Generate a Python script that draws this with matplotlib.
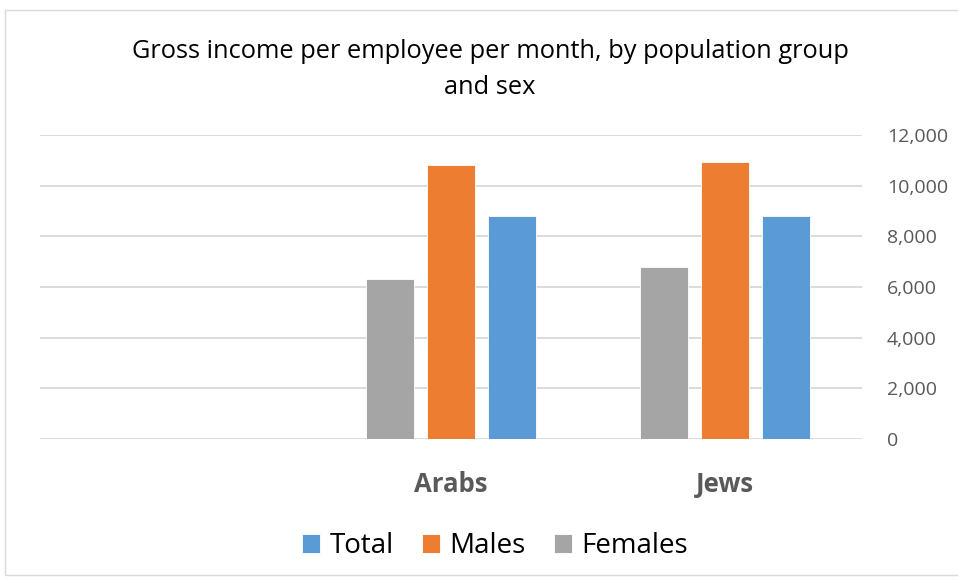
import matplotlib.pyplot as plt
import numpy as np
from matplotlib.patches import Rectangle
from matplotlib.ticker import FuncFormatter

plt.rcParams['font.family'] = ['Open Sans', 'DejaVu Sans']

# categories left to right (the chart runs right-to-left, first slot is empty)
categories = ['', 'Arabs', 'Jews']
series = ['Females', 'Males', 'Total']
females = [np.nan, 6300, 6800]
males = [np.nan, 10800, 10940]
total = [np.nan, 8790, 8820]
colors = {'Total': '#5B9BD5', 'Males': '#ED7D31', 'Females': '#A5A5A5'}

fig = plt.figure(figsize=(9.58, 5.8), dpi=100)
ax = fig.add_axes([40 / 958, 141 / 580, 822 / 958, 304 / 580])

x = np.arange(len(categories))
width = 0.172
step = 0.2225
bars = {}
for i, (name, vals) in enumerate(zip(series, [females, males, total])):
    bars[name] = ax.bar(x + (i - 1) * step, vals, width, color=colors[name],
                        edgecolor='white', linewidth=0.6, zorder=3)

ax.set_xlim(-0.5, 2.5)
ax.set_ylim(0, 12000)
ax.set_yticks(np.arange(0, 12001, 2000))
ax.yaxis.set_major_formatter(FuncFormatter(lambda v, p: f'{int(v):,}'))
ax.yaxis.tick_right()
ax.tick_params(axis='y', length=0, pad=18, labelsize=14, labelcolor='#595959')
ax.tick_params(axis='x', length=0, pad=23)
ax.set_xticks(x)
ax.set_xticklabels(categories, fontsize=18.5, fontweight='bold', color='#595959')
ax.grid(axis='y', color='#D9D9D9', linewidth=1.3, zorder=0)
for s in ax.spines.values():
    s.set_visible(False)

fig.text(490 / 958, 1 - 52 / 580, 'Gross income per employee per month, by population group',
         ha='center', va='center', fontsize=18.3, color='#000000')
fig.text(490 / 958, 1 - 87 / 580, 'and sex', ha='center', va='center', fontsize=18.3)

handles = [bars['Total'], bars['Males'], bars['Females']]
fig.legend(handles, ['Total', 'Males', 'Females'], loc='center',
           bbox_to_anchor=(495 / 958, 1 - 546 / 580), ncol=3, frameon=False,
           fontsize=20, handlelength=0.65, handleheight=0.65, handletextpad=0.35,
           columnspacing=1.0)

fig.patches.append(Rectangle((5 / 958, 5 / 580), 960 / 958, 565 / 580,
                             transform=fig.transFigure, fill=False,
                             edgecolor='#D9D9D9', linewidth=1))

fig.savefig('out.png', dpi=100)
